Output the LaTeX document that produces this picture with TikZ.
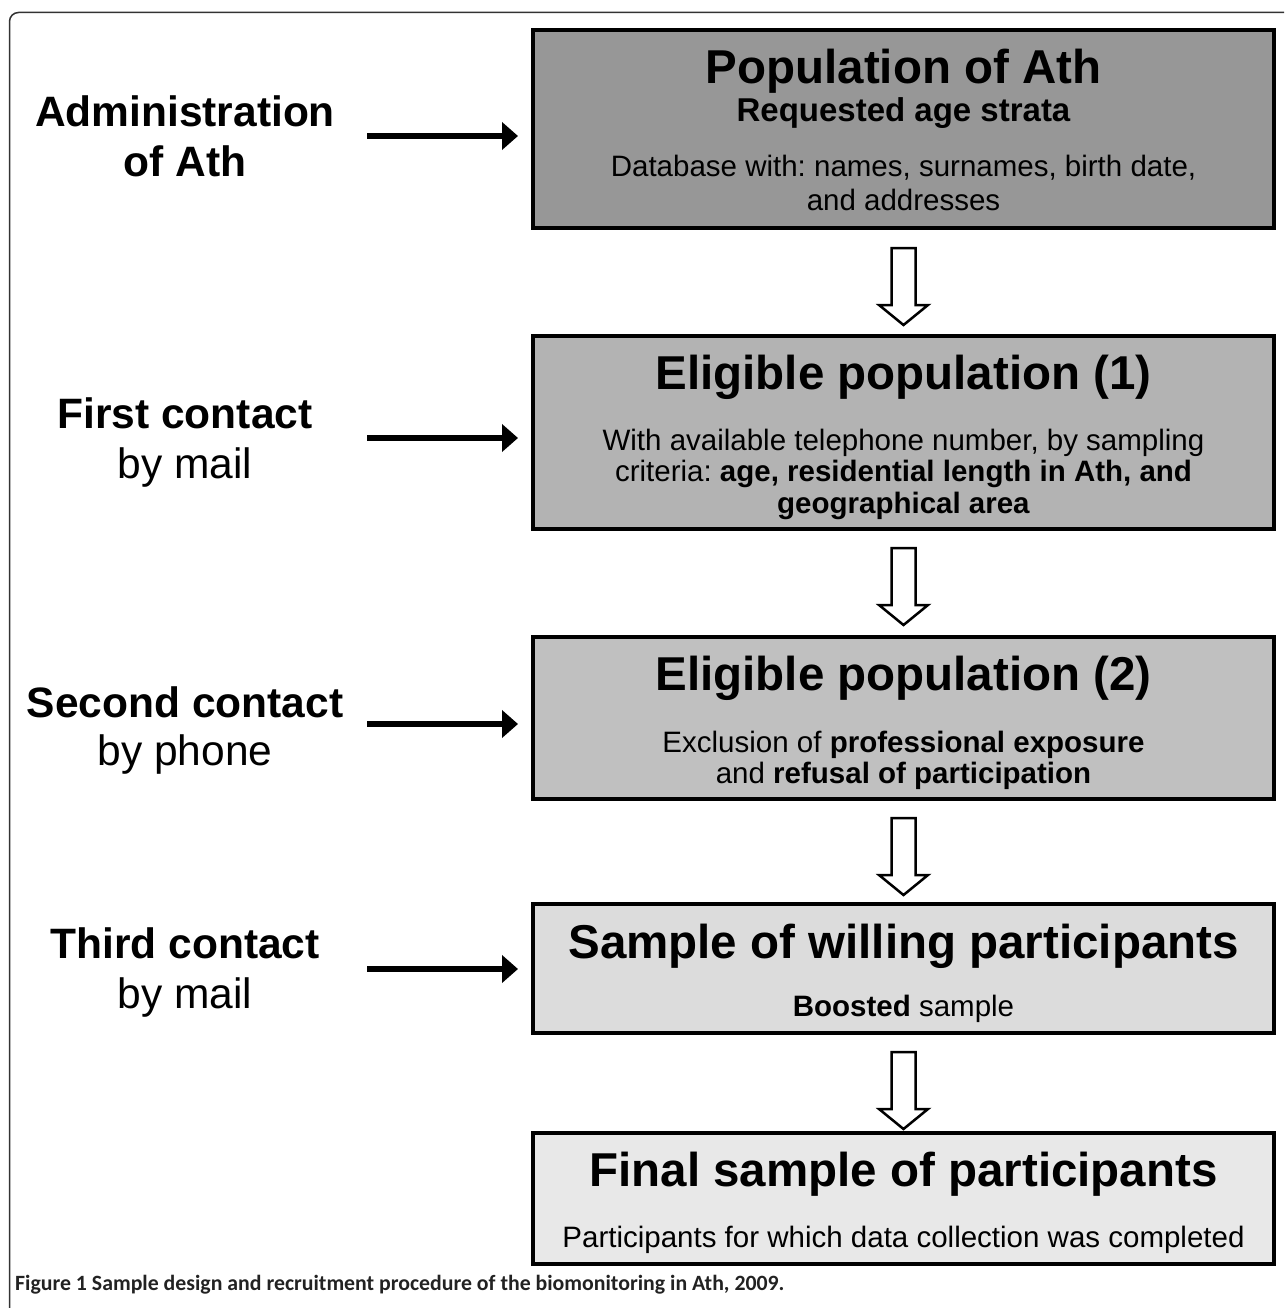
\documentclass[tikz,border=0pt]{standalone}
\usepackage{fontspec}
\setmainfont{Liberation Sans}
\newfontfamily\capfont{Carlito}
\usetikzlibrary{arrows.meta,calc}
\frenchspacing
\definecolor{gA}{HTML}{979797}
\definecolor{gB}{HTML}{B3B3B3}
\definecolor{gC}{HTML}{C0C0C0}
\definecolor{gD}{HTML}{DCDCDC}
\definecolor{gE}{HTML}{E8E8E8}
\definecolor{capcol}{HTML}{222222}
\tikzset{
  box/.style={draw=black, line width=4pt, inner sep=0pt, outer sep=0pt, minimum width=741pt},
  ttl/.style={anchor=base, inner sep=0pt, font=\fontsize{47.5}{56}\selectfont\bfseries},
  sub/.style={anchor=base, inner sep=0pt, font=\fontsize{33}{40}\selectfont\bfseries},
  body/.style={anchor=base, inner sep=0pt, font=\fontsize{29.5}{35}\selectfont},
  labb/.style={anchor=base, inner sep=0pt, font=\fontsize{42.5}{50}\selectfont\bfseries},
  labr/.style={anchor=base, inner sep=0pt, font=\fontsize{42.5}{50}\selectfont},
  larrow/.style={line width=6pt, -{Triangle[length=16pt,width=27pt]}, shorten >=15pt},
  frame/.style={draw=black!80, line width=1.5pt, rounded corners=9pt},
  hollowarrow/.pic={\draw[line width=2.5pt, fill=white, line join=miter]
    (-12,0) -- (12,0) -- (12,57) -- (24.5,57) -- (0,77) -- (-24.5,57) -- (-12,57) -- cycle;}
}
\begin{document}
\begin{tikzpicture}[x=1pt,y=-1pt]
\useasboundingbox (0,0) rectangle (1284,1308);
\begin{scope}
\clip (0,0) rectangle (1284,1308);
\draw[frame] (9.5,12.5) rectangle (1330,1360);
\end{scope}

% boxes
\node[box, fill=gA, minimum height=198pt] (b1) at (903.5,129) {};
\node[box, fill=gB, minimum height=193pt] (b2) at (903.5,432.5) {};
\node[box, fill=gC, minimum height=162pt] (b3) at (903.5,718) {};
\node[box, fill=gD, minimum height=129pt] (b4) at (903.5,968.5) {};
\node[box, fill=gE, minimum height=131pt] (b5) at (903.5,1198.5) {};

% box texts
\node[ttl] (t1) at (903.5,84) {Population of Ath};
\node[sub] (s1) at (903.5,122) {Requested age strata};
\node[body] (d1a) at (903.5,177) {Database with: names, surnames, birth date,};
\node[body] (d1b) at (903.5,210) {and addresses};

\node[ttl] (t2) at (903.5,389) {Eligible population (1)};
\node[body] (d2a) at (903.5,450) {With available telephone number, by sampling};
\node[body] (d2b) at (903.5,481) {criteria: \textbf{age, residential length in Ath, and}};
\node[body] (d2c) at (903.5,513) {\textbf{geographical area}};

\node[ttl] (t3) at (903.5,690) {Eligible population (2)};
\node[body] (d3a) at (903.5,752) {Exclusion of \textbf{professional exposure}};
\node[body] (d3b) at (903.5,783) {and \textbf{refusal of participation}};

\node[ttl] (t4) at (903.5,958) {Sample of willing participants};
\node[body] (d4a) at (903.5,1016) {\textbf{Boosted} sample};

\node[ttl] (t5) at (903.5,1186) {Final sample of participants};
\node[body] (d5a) at (903.5,1247) {Participants for which data collection was completed};

% left labels
\node[labb] (l1a) at (185,127) {Administration};
\node[labb] (l1b) at (185,177) {of Ath};
\node[labb] (l2a) at (185,428) {First contact};
\node[labr] (l2b) at (185,478) {by mail};
\node[labb] (l3a) at (185,717) {Second contact};
\node[labr] (l3b) at (185,765) {by phone};
\node[labb] (l4a) at (185,958) {Third contact};
\node[labr] (l4b) at (185,1008) {by mail};

% left arrows
\coordinate (a1) at (367,136);
\coordinate (a2) at (367,438);
\coordinate (a3) at (367,724);
\coordinate (a4) at (367,969);
\draw[larrow] (a1) -- (a1 -| b1.west);
\draw[larrow] (a2) -- (a2 -| b2.west);
\draw[larrow] (a3) -- (a3 -| b3.west);
\draw[larrow] (a4) -- (a4 -| b4.west);

% hollow down arrows
\pic at ($(b1.south)+(0,20)$) {hollowarrow};
\pic at ($(b2.south)+(0,19)$) {hollowarrow};
\pic at ($(b3.south)+(0,19)$) {hollowarrow};
\pic at ($(b4.south)+(0,19)$) {hollowarrow};

% caption
\node[anchor=base west, inner sep=0pt, text=capcol, font=\fontsize{21.8}{26}\selectfont\capfont\bfseries] (cap) at (15,1290) {Figure 1 Sample design and recruitment procedure of the biomonitoring in Ath, 2009.};
\end{tikzpicture}
\end{document}
